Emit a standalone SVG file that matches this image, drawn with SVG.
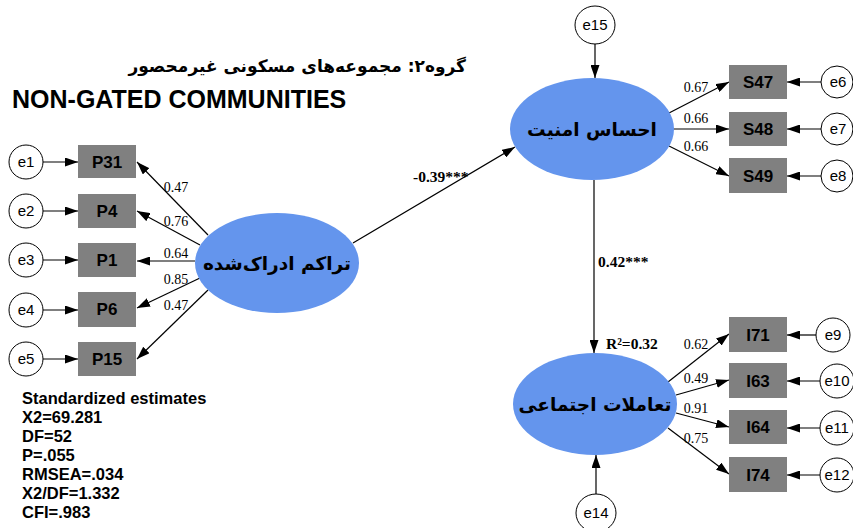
<svg xmlns="http://www.w3.org/2000/svg" width="853" height="528" viewBox="0 0 853 528">
<style>
.box{fill:#808080;}
.bt{font-family:"Liberation Sans",Arial,sans-serif;font-weight:bold;font-size:17px;fill:#000;text-anchor:middle;}
.err{fill:#fff;stroke:#000;stroke-width:1;}
.et{font-family:"Liberation Sans",Arial,sans-serif;font-size:15px;fill:#000;text-anchor:middle;}
.lat{fill:#6495ED;}
.lt{font-family:"DejaVu Sans",sans-serif;font-weight:bold;font-size:18.5px;fill:#000;text-anchor:middle;}
.ln{stroke:#000;stroke-width:1.2;fill:none;marker-end:url(#ah);}
.w{font-family:"Liberation Serif","Times New Roman",serif;font-size:14px;fill:#000;text-anchor:middle;}
.wb{font-family:"Liberation Serif","Times New Roman",serif;font-size:15.5px;font-weight:bold;fill:#000;}
.st{font-family:"Liberation Sans",Arial,sans-serif;font-weight:bold;font-size:16.5px;fill:#000;}
</style>
<defs>
<marker id="ah" markerWidth="13" markerHeight="9" refX="13" refY="4.5" orient="auto" markerUnits="userSpaceOnUse">
<path d="M0,0 L13,4.5 L0,9 Z" fill="#000"/>
</marker>
</defs>
<rect width="853" height="528" fill="#fff"/>
<text x="466" y="72" direction="rtl" text-anchor="start" font-family="DejaVu Sans,sans-serif" font-weight="bold" font-size="17">گروه۲: مجموعه‌های مسکونی غیرمحصور</text>
<text x="12" y="108" font-family="Liberation Sans,Arial,sans-serif" font-weight="bold" font-size="25">NON-GATED COMMUNITIES</text>

<g id="connectors">
<line class="ln" x1="43" y1="162" x2="78" y2="162"/>
<line class="ln" x1="43" y1="211" x2="78" y2="211"/>
<line class="ln" x1="43" y1="260" x2="78" y2="260"/>
<line class="ln" x1="43" y1="310" x2="78" y2="310"/>
<line class="ln" x1="43" y1="359" x2="78" y2="359"/>
<line class="ln" x1="208" y1="235" x2="137" y2="162"/>
<line class="ln" x1="200" y1="245" x2="137" y2="211"/>
<line class="ln" x1="195" y1="261" x2="137" y2="261"/>
<line class="ln" x1="200" y1="278" x2="137" y2="308"/>
<line class="ln" x1="208" y1="290" x2="137" y2="359"/>
<line class="ln" x1="353" y1="243" x2="515" y2="147"/>
<line class="ln" x1="594" y1="180" x2="594" y2="353"/>
<line class="ln" x1="595" y1="44" x2="595" y2="78"/>
<line class="ln" x1="596" y1="494" x2="596" y2="455"/>
<line class="ln" x1="669" y1="113" x2="729" y2="82"/>
<line class="ln" x1="673" y1="129" x2="729" y2="129"/>
<line class="ln" x1="669" y1="146" x2="729" y2="176"/>
<line class="ln" x1="821" y1="82" x2="787" y2="82"/>
<line class="ln" x1="821" y1="129" x2="787" y2="129"/>
<line class="ln" x1="821" y1="176" x2="787" y2="176"/>
<line class="ln" x1="668" y1="382" x2="729" y2="334"/>
<line class="ln" x1="676" y1="395" x2="729" y2="380"/>
<line class="ln" x1="676" y1="413" x2="729" y2="427"/>
<line class="ln" x1="668" y1="428" x2="729" y2="474"/>
<line class="ln" x1="816" y1="335" x2="787" y2="335"/>
<line class="ln" x1="820" y1="381" x2="787" y2="381"/>
<line class="ln" x1="820" y1="428" x2="787" y2="428"/>
<line class="ln" x1="820" y1="475" x2="787" y2="475"/>
<text class="w" x="176" y="192">0.47</text>
<text class="w" x="176" y="226">0.76</text>
<text class="w" x="176" y="258">0.64</text>
<text class="w" x="176" y="284">0.85</text>
<text class="w" x="176" y="310">0.47</text>
<text class="w" x="696" y="92">0.67</text>
<text class="w" x="696" y="123">0.66</text>
<text class="w" x="696" y="151">0.66</text>
<text class="w" x="696" y="349">0.62</text>
<text class="w" x="696" y="383">0.49</text>
<text class="w" x="696" y="413">0.91</text>
<text class="w" x="696" y="443">0.75</text>
<text class="wb" x="413" y="182">-0.39***</text>
<text class="wb" x="598" y="267">0.42***</text>
<text class="wb" x="606" y="349">R²=0.32</text>
</g>

<g id="lat1"><ellipse class="lat" cx="277" cy="263" rx="82" ry="50"/><text class="lt" x="277" y="270">تراکم ادراک‌شده</text></g>
<g id="lat2"><ellipse class="lat" cx="592" cy="129" rx="82" ry="51"/><text class="lt" x="592" y="136">احساس امنیت</text></g>
<g id="lat3"><ellipse class="lat" cx="595" cy="404" rx="82" ry="51"/><text class="lt" x="595" y="411">تعاملات اجتماعی</text></g>

<g id="P31"><rect class="box" x="78" y="145" width="58" height="33"/><text class="bt" x="107" y="168">P31</text></g>
<g id="P4"><rect class="box" x="78" y="194" width="58" height="34"/><text class="bt" x="107" y="217">P4</text></g>
<g id="P1"><rect class="box" x="78" y="243" width="58" height="34"/><text class="bt" x="107" y="266">P1</text></g>
<g id="P6"><rect class="box" x="78" y="292" width="58" height="35"/><text class="bt" x="107" y="315">P6</text></g>
<g id="P15"><rect class="box" x="78" y="342" width="58" height="34"/><text class="bt" x="107" y="365">P15</text></g>

<g id="e1"><circle class="err" cx="26" cy="162" r="17"/><text class="et" x="26" y="167">e1</text></g>
<g id="e2"><circle class="err" cx="26" cy="211" r="17"/><text class="et" x="26" y="216">e2</text></g>
<g id="e3"><circle class="err" cx="26" cy="260" r="17"/><text class="et" x="26" y="265">e3</text></g>
<g id="e4"><circle class="err" cx="26" cy="310" r="17"/><text class="et" x="26" y="315">e4</text></g>
<g id="e5"><circle class="err" cx="26" cy="359" r="17"/><text class="et" x="26" y="364">e5</text></g>

<g id="S47"><rect class="box" x="729" y="65" width="58" height="34"/><text class="bt" x="758" y="88">S47</text></g>
<g id="S48"><rect class="box" x="729" y="112" width="58" height="34"/><text class="bt" x="758" y="135">S48</text></g>
<g id="S49"><rect class="box" x="729" y="158" width="58" height="35"/><text class="bt" x="758" y="182">S49</text></g>
<g id="e6"><circle class="err" cx="837" cy="82" r="16"/><text class="et" x="838" y="87">e6</text></g>
<g id="e7"><circle class="err" cx="837" cy="129" r="16"/><text class="et" x="838" y="134">e7</text></g>
<g id="e8"><circle class="err" cx="837" cy="176" r="16"/><text class="et" x="838" y="181">e8</text></g>

<g id="I71"><rect class="box" x="729" y="317" width="58" height="35"/><text class="bt" x="758" y="341">I71</text></g>
<g id="I63"><rect class="box" x="729" y="363" width="58" height="35"/><text class="bt" x="758" y="387">I63</text></g>
<g id="I64"><rect class="box" x="729" y="410" width="58" height="34"/><text class="bt" x="758" y="433">I64</text></g>
<g id="I74"><rect class="box" x="729" y="457" width="58" height="35"/><text class="bt" x="758" y="481">I74</text></g>
<g id="e9"><circle class="err" cx="833" cy="335" r="17"/><text class="et" x="833" y="340">e9</text></g>
<g id="e10"><circle class="err" cx="837" cy="381" r="17"/><text class="et" x="837" y="386">e10</text></g>
<g id="e11"><circle class="err" cx="837" cy="428" r="17"/><text class="et" x="837" y="433">e11</text></g>
<g id="e12"><circle class="err" cx="837" cy="475" r="17"/><text class="et" x="837" y="480">e12</text></g>

<g id="e15"><ellipse class="err" cx="595" cy="25" rx="20" ry="19"/><text class="et" x="595" y="30">e15</text></g>
<g id="e14"><ellipse class="err" cx="596" cy="513" rx="20" ry="19"/><text class="et" x="596" y="518">e14</text></g>

<g id="stats">
<text class="st" x="22" y="404">Standardized estimates</text>
<text class="st" x="22" y="423">X2=69.281</text>
<text class="st" x="22" y="442">DF=52</text>
<text class="st" x="22" y="461">P=.055</text>
<text class="st" x="22" y="480">RMSEA=.034</text>
<text class="st" x="22" y="499">X2/DF=1.332</text>
<text class="st" x="22" y="518">CFI=.983</text>
</g>
</svg>
